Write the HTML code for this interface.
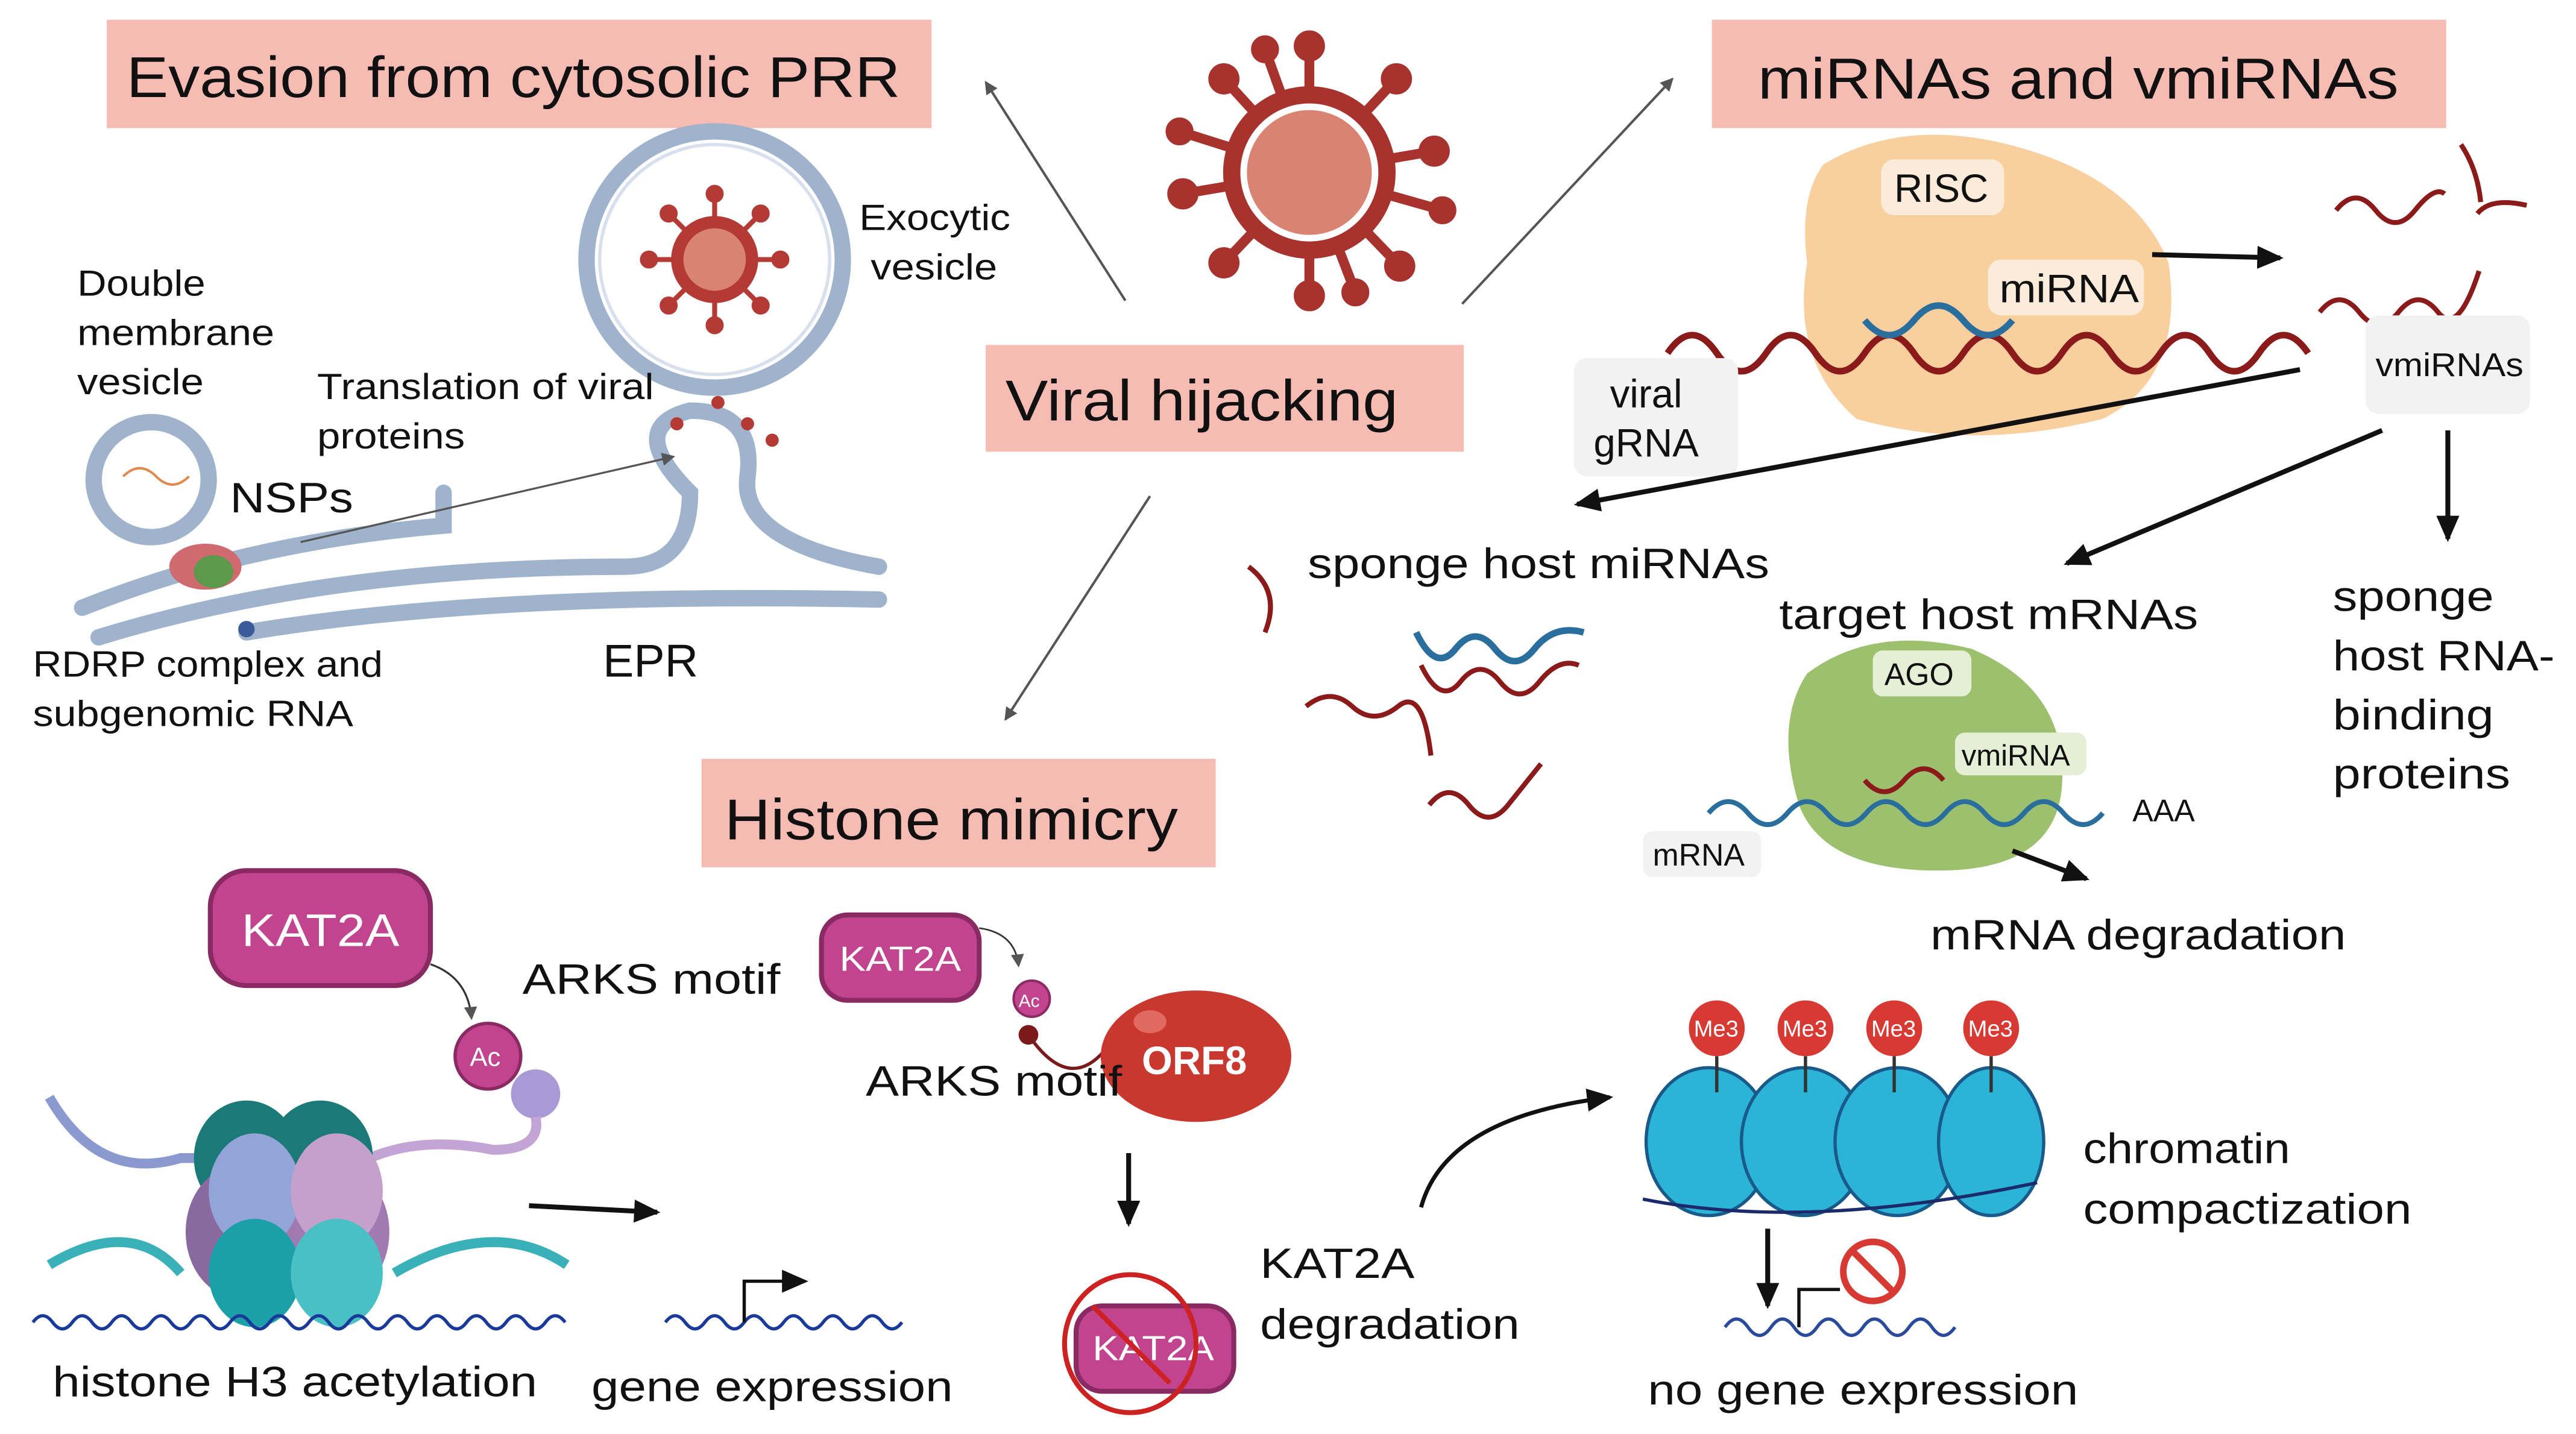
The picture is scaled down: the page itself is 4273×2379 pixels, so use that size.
<!DOCTYPE html>
<html><head><meta charset="utf-8"><style>
html,body{margin:0;padding:0;background:#fff;}
svg{display:block;}
text{font-family:"Liberation Sans",sans-serif;fill:#111;}
</style></head><body>
<svg width="4273" height="2379" viewBox="0 0 1568 873" xmlns="http://www.w3.org/2000/svg">
<defs>
<marker id="ah" markerWidth="8" markerHeight="8" refX="7" refY="4" orient="auto" markerUnits="userSpaceOnUse"><path d="M0,0 L8,4 L0,8 z" fill="#555"/></marker>
<marker id="ab" markerWidth="16" markerHeight="14" refX="14" refY="7" orient="auto" markerUnits="userSpaceOnUse"><path d="M0,0 L16,7 L0,14 z" fill="#111"/></marker>
</defs>
<rect x="65" y="12" width="502" height="66" fill="#f6bcb3"/>
<text x="77" y="59" font-size="35" textLength="471" lengthAdjust="spacingAndGlyphs">Evasion from cytosolic PRR</text>
<rect x="1042" y="12" width="447" height="66" fill="#f6bcb3"/>
<text x="1070" y="60" font-size="35" textLength="390" lengthAdjust="spacingAndGlyphs">miRNAs and vmiRNAs</text>
<rect x="600" y="210" width="291" height="65" fill="#f6bcb3"/>
<text x="612" y="256" font-size="35" textLength="239" lengthAdjust="spacingAndGlyphs">Viral hijacking</text>
<rect x="427" y="462" width="313" height="66" fill="#f6bcb3"/>
<text x="441" y="511" font-size="35" textLength="276" lengthAdjust="spacingAndGlyphs">Histone mimicry</text>

<g fill="#a8322e" stroke="#a8322e">
<g stroke-width="6">
<line x1="797" y1="105" x2="797" y2="28"/><line x1="797" y1="105" x2="797" y2="180"/>
<line x1="797" y1="105" x2="873" y2="92"/><line x1="797" y1="105" x2="720" y2="118"/>
<line x1="797" y1="105" x2="850" y2="48"/><line x1="797" y1="105" x2="745" y2="160"/>
<line x1="797" y1="105" x2="745" y2="48"/><line x1="797" y1="105" x2="852" y2="162"/>
<line x1="797" y1="105" x2="718" y2="80"/><line x1="797" y1="105" x2="878" y2="128"/>
<line x1="797" y1="105" x2="770" y2="30"/><line x1="797" y1="105" x2="825" y2="178"/>
</g>
<circle cx="797" cy="28" r="9"/><circle cx="797" cy="180" r="9"/><circle cx="873" cy="92" r="9"/><circle cx="720" cy="118" r="9"/>
<circle cx="850" cy="48" r="9"/><circle cx="745" cy="160" r="9"/><circle cx="745" cy="48" r="9"/><circle cx="852" cy="162" r="9"/>
<circle cx="718" cy="80" r="8"/><circle cx="878" cy="128" r="8"/><circle cx="770" cy="30" r="8"/><circle cx="825" cy="178" r="8"/>
<circle cx="797" cy="105" r="52"/>
</g>
<circle cx="797" cy="105" r="40" fill="#d98373" stroke="#fff" stroke-width="4"/>

<g stroke="#555" stroke-width="1.5" marker-end="url(#ah)">
<line x1="685" y1="183" x2="600" y2="50"/>
<line x1="890" y1="185" x2="1018" y2="48"/>
<line x1="700" y1="302" x2="612" y2="438"/>
</g>

<g fill="none" stroke="#9fb4cc" stroke-width="10" stroke-linecap="round">
<path d="M50,370 Q150,330 270,320 L270,300"/>
<path d="M60,388 Q200,345 380,345 Q420,345 420,300 Q380,260 420,250 Q460,250 455,290 Q450,330 535,345"/>
<path d="M150,385 Q300,360 535,365"/>
<circle cx="92" cy="292" r="35"/>
</g>
<circle cx="435" cy="158" r="78" fill="none" stroke="#9fb4cc" stroke-width="10"/>
<circle cx="435" cy="158" r="70" fill="#fff" stroke="#d7e0ec" stroke-width="2"/>
<g fill="#b33a35" stroke="#b33a35" stroke-width="3">
<line x1="435" y1="158" x2="435" y2="118"/><line x1="435" y1="158" x2="435" y2="198"/>
<line x1="435" y1="158" x2="475" y2="158"/><line x1="435" y1="158" x2="395" y2="158"/>
<line x1="435" y1="158" x2="463" y2="130"/><line x1="435" y1="158" x2="407" y2="186"/>
<line x1="435" y1="158" x2="407" y2="130"/><line x1="435" y1="158" x2="463" y2="186"/>
<circle cx="435" cy="118" r="4"/><circle cx="435" cy="198" r="4"/><circle cx="475" cy="158" r="4"/><circle cx="395" cy="158" r="4"/>
<circle cx="463" cy="130" r="4"/><circle cx="407" cy="186" r="4"/><circle cx="407" cy="130" r="4"/><circle cx="463" cy="186" r="4"/>
<circle cx="435" cy="158" r="25"/>
</g>
<circle cx="435" cy="158" r="19" fill="#d98373"/>
<g fill="#b33a35"><circle cx="412" cy="258" r="4"/><circle cx="437" cy="245" r="4"/><circle cx="455" cy="258" r="4"/><circle cx="470" cy="268" r="4"/></g>
<path d="M75,290 q10,-10 20,0 t20,0" stroke="#e08a50" fill="none" stroke-width="1.5"/>
<ellipse cx="125" cy="345" rx="22" ry="14" fill="#d06a70"/>
<ellipse cx="130" cy="348" rx="12" ry="10" fill="#5a9a4a"/>
<circle cx="150" cy="383" r="5" fill="#3a5a9a"/>
<line x1="183" y1="330" x2="410" y2="278" stroke="#555" stroke-width="1.2" marker-end="url(#ah)"/>
<g font-size="22">
<text x="523" y="140" textLength="92" lengthAdjust="spacingAndGlyphs">Exocytic</text><text x="530" y="170" textLength="77" lengthAdjust="spacingAndGlyphs">vesicle</text>
<text x="47" y="180" textLength="78" lengthAdjust="spacingAndGlyphs">Double</text><text x="47" y="210" textLength="120" lengthAdjust="spacingAndGlyphs">membrane</text><text x="47" y="240" textLength="77" lengthAdjust="spacingAndGlyphs">vesicle</text>
<text x="193" y="243" textLength="205" lengthAdjust="spacingAndGlyphs">Translation of viral</text><text x="193" y="273" textLength="90" lengthAdjust="spacingAndGlyphs">proteins</text>
<text x="140" y="312" font-size="26" textLength="75" lengthAdjust="spacingAndGlyphs">NSPs</text>
<text x="20" y="412" textLength="213" lengthAdjust="spacingAndGlyphs">RDRP complex and</text><text x="20" y="442" textLength="195" lengthAdjust="spacingAndGlyphs">subgenomic RNA</text>
<text x="367" y="412" font-size="28" textLength="58" lengthAdjust="spacingAndGlyphs">EPR</text>
</g>

<path d="M1110,100 Q1160,70 1230,90 Q1300,110 1320,160 Q1330,230 1280,255 Q1200,275 1130,255 Q1090,220 1100,160 Q1095,120 1110,100z" fill="#f9cf9e"/>
<rect x="1145" y="97" width="75" height="34" rx="8" fill="#fbebd9"/>
<text x="1153" y="123" font-size="24">RISC</text>
<rect x="1210" y="158" width="95" height="34" rx="8" fill="#fbebd9"/>
<text x="1217" y="184" font-size="24" textLength="85" lengthAdjust="spacingAndGlyphs">miRNA</text>
<path d="M1015,215 q15,-22 30,0 t30,0 t30,0 t30,0 t30,0 t30,0 t30,0 t30,0 t30,0 t30,0 t30,0 t30,0 t30,0" stroke="#8b1a1a" stroke-width="4" fill="none"/>
<path d="M1135,195 q15,18 30,0 t30,0 t30,0" stroke="#2a6e9e" stroke-width="4" fill="none"/>
<rect x="958" y="218" width="100" height="72" rx="8" fill="#f2f2f2"/>
<text x="980" y="248" font-size="24">viral</text><text x="970" y="278" font-size="24">gRNA</text>
<line x1="1310" y1="155" x2="1388" y2="157" stroke="#111" stroke-width="3" marker-end="url(#ab)"/>
<g stroke="#8b1a1a" stroke-width="3" fill="none">
<path d="M1422,128 q12,-15 24,0 t24,0 t18,-10"/><path d="M1498,88 q10,15 12,35 M1508,130 q8,-10 30,-5"/>
<path d="M1412,190 q12,-15 24,0 t24,0 t24,0 t25,-25"/>
</g>
<rect x="1440" y="192" width="100" height="60" rx="8" fill="#f2f2f2"/>
<text x="1446" y="229" font-size="20" textLength="90" lengthAdjust="spacingAndGlyphs">vmiRNAs</text>
<line x1="1400" y1="225" x2="960" y2="307" stroke="#111" stroke-width="3" marker-end="url(#ab)"/>
<line x1="1450" y1="262" x2="1258" y2="343" stroke="#111" stroke-width="3" marker-end="url(#ab)"/>
<line x1="1490" y1="262" x2="1490" y2="328" stroke="#111" stroke-width="3" marker-end="url(#ab)"/>
<g font-size="26">
<text x="796" y="352" textLength="281" lengthAdjust="spacingAndGlyphs">sponge host miRNAs</text>
<text x="1083" y="383" textLength="255" lengthAdjust="spacingAndGlyphs">target host mRNAs</text>
<text x="1420" y="372" textLength="98" lengthAdjust="spacingAndGlyphs">sponge</text><text x="1420" y="408" textLength="135" lengthAdjust="spacingAndGlyphs">host RNA-</text><text x="1420" y="444" textLength="98" lengthAdjust="spacingAndGlyphs">binding</text><text x="1420" y="480" textLength="108" lengthAdjust="spacingAndGlyphs">proteins</text>
<text x="1175" y="578" textLength="253" lengthAdjust="spacingAndGlyphs">mRNA degradation</text>
</g>
<g stroke="#8b1a1a" stroke-width="3" fill="none">
<path d="M760,345 q20,15 10,40"/><path d="M795,430 q15,-12 28,0 t28,0 t20,30"/><path d="M870,490 q12,-15 24,0 t24,0 t20,-25"/>
<path d="M865,405 q12,25 24,10 t24,0 t24,0 t24,-10"/>
</g>
<path d="M862,385 q12,25 24,10 t24,0 t24,0 t30,-10" stroke="#2a6e9e" stroke-width="4" fill="none"/>
<path d="M1100,410 Q1140,380 1200,395 Q1260,420 1255,480 Q1250,530 1180,530 Q1110,530 1095,490 Q1080,440 1100,410z" fill="#9cc06e"/>
<rect x="1140" y="396" width="60" height="28" rx="6" fill="#e4efd6"/>
<text x="1147" y="417" font-size="19">AGO</text>
<rect x="1190" y="446" width="80" height="26" rx="6" fill="#e4efd6"/>
<text x="1194" y="466" font-size="18">vmiRNA</text>
<path d="M1040,495 q12,-14 24,0 t24,0 t24,0 t24,0 t24,0 t24,0 t24,0 t24,0 t24,0 t24,0" stroke="#2a6e9e" stroke-width="3" fill="none"/>
<path d="M1135,475 q12,14 24,0 t24,0" stroke="#8b1a1a" stroke-width="3" fill="none"/>
<text x="1298" y="500" font-size="19">AAA</text>
<rect x="1000" y="506" width="72" height="28" rx="6" fill="#f2f2f2"/>
<text x="1006" y="527" font-size="19">mRNA</text>
<line x1="1225" y1="518" x2="1270" y2="535" stroke="#111" stroke-width="3" marker-end="url(#ab)"/>

<g>
<ellipse cx="1040" cy="695" rx="38" ry="45" fill="#2bb4d6" stroke="#1a5a8a" stroke-width="2"/><ellipse cx="1098" cy="695" rx="38" ry="45" fill="#2bb4d6" stroke="#1a5a8a" stroke-width="2"/>
<ellipse cx="1155" cy="695" rx="38" ry="45" fill="#2bb4d6" stroke="#1a5a8a" stroke-width="2"/><ellipse cx="1212" cy="695" rx="32" ry="45" fill="#2bb4d6" stroke="#1a5a8a" stroke-width="2"/>
<path d="M1000,730 q100,20 240,-10" stroke="#1a2a6a" stroke-width="2" fill="none"/>
<g stroke="#333" stroke-width="2"><line x1="1045" y1="643" x2="1045" y2="665"/><line x1="1099" y1="643" x2="1099" y2="665"/><line x1="1153" y1="643" x2="1153" y2="665"/><line x1="1212" y1="643" x2="1212" y2="665"/></g>
<g fill="#d73a33"><circle cx="1045" cy="626" r="17"/><circle cx="1099" cy="626" r="17"/><circle cx="1153" cy="626" r="17"/><circle cx="1212" cy="626" r="17"/></g>
<g font-size="14"><text x="1031" y="631" style="fill:#fff">Me3</text><text x="1085" y="631" style="fill:#fff">Me3</text><text x="1139" y="631" style="fill:#fff">Me3</text><text x="1198" y="631" style="fill:#fff">Me3</text></g>
</g>
<text x="1268" y="708" font-size="26" textLength="126" lengthAdjust="spacingAndGlyphs">chromatin</text><text x="1268" y="745" font-size="26" textLength="200" lengthAdjust="spacingAndGlyphs">compactization</text>
<path d="M865,735 Q880,680 980,668" stroke="#111" stroke-width="2.5" fill="none" marker-end="url(#ab)"/>
<line x1="1076" y1="748" x2="1076" y2="795" stroke="#111" stroke-width="3" marker-end="url(#ab)"/>
<path d="M1050,808 q7,-10 14,0 t14,0 t14,0 t14,0 t14,0 t14,0 t14,0 t14,0 t14,0 t14,0" stroke="#2a4a9a" stroke-width="2" fill="none"/>
<path d="M1095,808 L1095,785 L1120,785" stroke="#111" stroke-width="2" fill="none"/>
<circle cx="1140" cy="774" r="18" fill="none" stroke="#d73a33" stroke-width="4"/>
<line x1="1128" y1="762" x2="1152" y2="786" stroke="#d73a33" stroke-width="4"/>
<text x="1003" y="855" font-size="26" textLength="262" lengthAdjust="spacingAndGlyphs">no gene expression</text>

<rect x="128" y="530" width="134" height="70" rx="22" fill="#c2448f" stroke="#8a2a62" stroke-width="3"/>
<text x="147" y="576" font-size="28" style="fill:#fff" textLength="96" lengthAdjust="spacingAndGlyphs">KAT2A</text>
<path d="M262,587 Q285,595 287,620" stroke="#333" fill="none" stroke-width="1.2" marker-end="url(#ah)"/>
<circle cx="297" cy="643" r="20" fill="#c2448f" stroke="#8a2a62" stroke-width="2"/>
<text x="286" y="649" font-size="16" style="fill:#fff">Ac</text>
<circle cx="326" cy="666" r="15" fill="#a99ad6"/>
<text x="318" y="605" font-size="26" textLength="157" lengthAdjust="spacingAndGlyphs">ARKS motif</text>
<path d="M30,668 Q60,720 110,705 L160,705" stroke="#8a9ad0" stroke-width="6" fill="none"/>
<path d="M215,710 Q250,690 300,700 Q330,700 326,680" stroke="#c4a4d4" stroke-width="6" fill="none"/>
<path d="M30,770 Q80,740 110,775 M240,775 Q300,740 345,770" stroke="#3ab0b8" stroke-width="6" fill="none"/>
<ellipse cx="150" cy="705" rx="32" ry="35" fill="#1b7a78"/><ellipse cx="195" cy="705" rx="32" ry="35" fill="#1b7a78"/>
<ellipse cx="145" cy="750" rx="32" ry="40" fill="#8a6a9e"/><ellipse cx="205" cy="750" rx="32" ry="40" fill="#a07ab0"/>
<ellipse cx="155" cy="725" rx="28" ry="35" fill="#92a4d8"/><ellipse cx="205" cy="725" rx="28" ry="35" fill="#c4a0cc"/>
<ellipse cx="155" cy="775" rx="28" ry="33" fill="#1ba0a8"/><ellipse cx="205" cy="775" rx="28" ry="33" fill="#48c0c4"/>
<path d="M20,805 q6,-8 12,0 t12,0 t12,0 t12,0 t12,0 t12,0 t12,0 t12,0 t12,0 t12,0 t12,0 t12,0 t12,0 t12,0 t12,0 t12,0 t12,0 t12,0 t12,0 t12,0 t12,0 t12,0 t12,0 t12,0 t12,0 t12,0 t12,0" stroke="#1a3a9a" stroke-width="2" fill="none"/>
<text x="32" y="850" font-size="26" textLength="295" lengthAdjust="spacingAndGlyphs">histone H3 acetylation</text>
<line x1="322" y1="734" x2="400" y2="738" stroke="#111" stroke-width="3" marker-end="url(#ab)"/>
<path d="M405,805 q6,-8 12,0 t12,0 t12,0 t12,0 t12,0 t12,0 t12,0 t12,0 t12,0 t12,0 t12,0 t12,0" stroke="#1a3a9a" stroke-width="2" fill="none"/>
<path d="M453,805 L453,780 L490,780" stroke="#111" stroke-width="2" fill="none" marker-end="url(#ab)"/>
<text x="360" y="853" font-size="26" textLength="220" lengthAdjust="spacingAndGlyphs">gene expression</text>

<rect x="500" y="557" width="96" height="52" rx="16" fill="#c2448f" stroke="#8a2a62" stroke-width="3"/>
<text x="511" y="591" font-size="21" style="fill:#fff" textLength="74" lengthAdjust="spacingAndGlyphs">KAT2A</text>
<path d="M596,565 Q618,568 620,588" stroke="#333" fill="none" stroke-width="1" marker-end="url(#ah)"/>
<circle cx="628" cy="608" r="11" fill="#c2448f" stroke="#8a2a62" stroke-width="1.5"/>
<text x="620" y="613" font-size="11" style="fill:#fff">Ac</text>
<circle cx="626" cy="630" r="6" fill="#7a1a1a"/>
<path d="M626,630 Q650,665 672,640" stroke="#7a1a1a" stroke-width="2" fill="none"/>
<ellipse cx="728" cy="643" rx="58" ry="40" fill="#c8382f"/>
<ellipse cx="700" cy="622" rx="10" ry="7" fill="#e06a60"/>
<text x="695" y="654" font-size="24" font-weight="bold" style="fill:#fff">ORF8</text>
<text x="527" y="667" font-size="26" textLength="156" lengthAdjust="spacingAndGlyphs">ARKS motif</text>
<line x1="687" y1="702" x2="687" y2="745" stroke="#111" stroke-width="3" marker-end="url(#ab)"/>
<rect x="655" y="795" width="96" height="52" rx="16" fill="#c2448f" stroke="#8a2a62" stroke-width="3"/>
<text x="665" y="828" font-size="21" style="fill:#fff" textLength="74" lengthAdjust="spacingAndGlyphs">KAT2A</text>
<ellipse cx="688" cy="818" rx="40" ry="42" fill="none" stroke="#cc2222" stroke-width="3"/>
<line x1="665" y1="795" x2="712" y2="842" stroke="#cc2222" stroke-width="3"/>
<text x="767" y="778" font-size="26" textLength="94" lengthAdjust="spacingAndGlyphs">KAT2A</text><text x="767" y="815" font-size="26" textLength="158" lengthAdjust="spacingAndGlyphs">degradation</text>
</svg>
</body></html>
